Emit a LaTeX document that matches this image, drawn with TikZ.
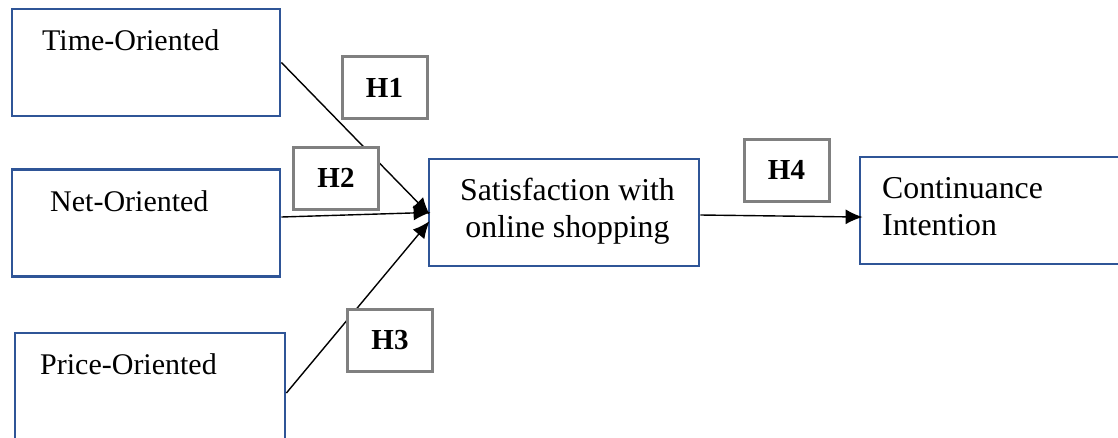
\documentclass[tikz,border=0pt]{standalone}
\usepackage{fontspec}
\setmainfont{Liberation Serif}
\usepackage{xcolor}
\usetikzlibrary{arrows, arrows.meta, positioning}
\definecolor{boxblue}{RGB}{47,85,151}
\definecolor{hypgray}{RGB}{128,128,128}

\begin{document}
\begin{tikzpicture}[x=1pt,y=-1pt]
            \tikzset{construct/.style = {draw=boxblue, line width=2.8pt, rectangle, inner sep=0pt,
                                         minimum width=268pt, minimum height=107pt},
                     hyp/.style = {draw=hypgray, fill=white, line width=3pt, inner sep=0pt,
                                   minimum width=85pt, minimum height=62pt,
                                   font=\fontsize{29}{34}\selectfont\bfseries},
                     txt/.style = {inner sep=0pt, anchor=base west, font=\fontsize{30}{37}\selectfont},
                     bigtxt/.style = {txt, font=\fontsize{31.8}{37}\selectfont},
                     edge/.style = {-{Latex[length=17pt,width=15pt]}, line width=1.4pt}}
            \useasboundingbox (0,0) rectangle (1118,437);
            % vertices
            \node[construct] (time) at  (146,62.5) {};
            \node[txt] (timet) at  (42,50) {Time-Oriented};
            \node[construct] (net) at  (146,223) {};
            \node[txt] (nett) at  (50,211) {Net-Oriented};
            \node[construct, minimum width=270pt, minimum height=120pt] (price) at  (150,393) {};
            \node[txt] (pricet) at  (40,374) {Price-Oriented};
            \node[construct, minimum width=270pt] (sat) at  (564,212.5) {};
            % base of a two-line node is its last line
            \node[bigtxt, anchor=base, align=center] (satt) at  (567.5,237) {Satisfaction with\\online shopping};
            \node[construct, minimum width=270pt] (cont) at  (995,210.5) {};
            \node[bigtxt, align=left] (contt) at  (882,235) {Continuance\\Intention};
            %edges
            \draw[edge, shorten >=-3pt] (time.east) to (sat.west);
            \draw[edge, shorten >=-3pt] ([yshift=6pt]net.east) to (sat.west);
            \draw[edge, shorten >=-3pt] (price.east) to ([yshift=-11pt]sat.west);
            \draw[edge, shorten >=-4pt] ([yshift=-2.5pt]sat.east) to ([yshift=-6.5pt]cont.west);
            % hypothesis labels, on top of the edges
            \node[hyp] (h1) at  (384.5,87.5) {H1};
            \node[hyp] (h2) at  (336,178) {H2};
            \node[hyp] (h3) at  (390,340.5) {H3};
            \node[hyp] (h4) at  (786.5,170) {H4};
\end{tikzpicture}
\end{document}
